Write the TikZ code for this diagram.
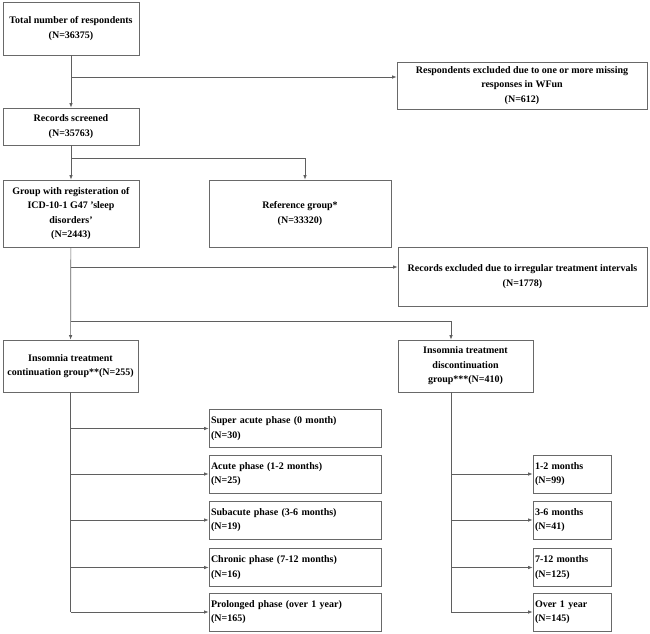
\documentclass[tikz,border=0pt]{standalone}
\usepackage{fontspec}
\setmainfont{Liberation Serif}
\usepackage{tikz}
\usetikzlibrary{arrows.meta}
\definecolor{framegray}{RGB}{105,105,105}
\definecolor{linkgray}{RGB}{95,95,95}

\begin{document}
\begin{tikzpicture}[x=1pt, y=-1pt, font=\fontsize{10}{14.5}\selectfont\bfseries,
  box/.style={draw=framegray, line width=0.8pt, rectangle, align=center, inner sep=2pt},
  leftbox/.style={box, align=left, text width=#1, inner xsep=2pt},
  link/.style={draw=linkgray, line width=0.7pt},
  arr/.style={link, -{Latex[length=4.5pt, width=3.5pt]}}]
  \useasboundingbox (0,0) rectangle (650,633);

  % top part
  \node[box, minimum width=136pt, minimum height=53pt] (total) at (71,28.5) {Total number of respondents\\(N=36375)};
  \node[box, minimum width=250pt, minimum height=47pt] (excl1) at (522,85.5) {Respondents excluded due to one or more missing\\responses in WFun\\(N=612)};
  \node[box, minimum width=136pt, minimum height=37pt] (records) at (71,126.5) {Records screened\\(N=35763)};
  \node[box, minimum width=136pt, minimum height=67pt] (group) at (71,213.5) {Group with registeration of\\ICD-10-1 G47 'sleep\\disorders'\\(N=2443)};
  \node[box, minimum width=182pt, minimum height=67pt] (ref) at (300,213.5) {Reference group*\\(N=33320)};
  \node[box, minimum width=249pt, minimum height=59pt] (excl2) at (522.5,276.5) {Records excluded due to irregular treatment intervals\\(N=1778)};
  \node[box, minimum width=135pt, minimum height=52pt] (cont) at (70.5,366) {Insomnia treatment\\continuation group**(N=255)};
  \node[box, minimum width=135pt, minimum height=52pt] (disc) at (465.5,366) {Insomnia treatment\\discontinuation\\group***(N=410)};

  \coordinate (b1) at (71,77);
  \coordinate (b2) at (71,158);
  \coordinate (b3) at (71,267);
  \coordinate (b4) at (71,321);
  \coordinate (refin) at (305,158);
  \coordinate (discin) at (451,321);

  \draw[arr] (total) -- (records);
  \draw[arr] (b1) -- (b1 -| excl1.west);
  \draw[arr] (records) -- (group);
  \draw[arr] (b2) -- (refin) -- (refin |- ref.north);
  \draw[arr] (group) -- (cont);
  \draw[arr] (b3) -- (b3 -| excl2.west);
  \draw[arr] (b4) -- (discin) -- (discin |- disc.north);

  % phases of the continuation group
  \foreach \i/\yc/\txt in {1/428.5/{Super acute phase (0 month)}, 2/474/{Acute phase (1-2 months)},
      3/520/{Subacute phase (3-6 months)}, 4/567.5/{Chronic phase (7-12 months)}, 5/612/{Prolonged phase (over 1 year)}} {
    \node[leftbox=168pt, minimum height=38pt] (ph\i) at (295,\yc) {\txt\\(N=\ifcase\i\or30\or25\or19\or16\or165\fi)};
    \draw[arr] (cont.south |- ph\i.west) -- (ph\i.west);
  }
  \draw[link] (cont.south) -- (cont.south |- ph5.west);

  % months of the discontinuation group
  \foreach \i/\yc/\txt/\n in {1/474/{1-2 months}/99, 2/520/{3-6 months}/41, 3/567.5/{7-12 months}/125, 4/612/{Over 1 year}/145} {
    \node[leftbox=74pt, minimum height=38pt] (mo\i) at (572,\yc) {\txt\\(N=\n)};
    \draw[arr] (discin |- mo\i.west) -- (mo\i.west);
  }
  \draw[link] (discin |- disc.south) -- (discin |- mo4.west);
\end{tikzpicture}
\end{document}
